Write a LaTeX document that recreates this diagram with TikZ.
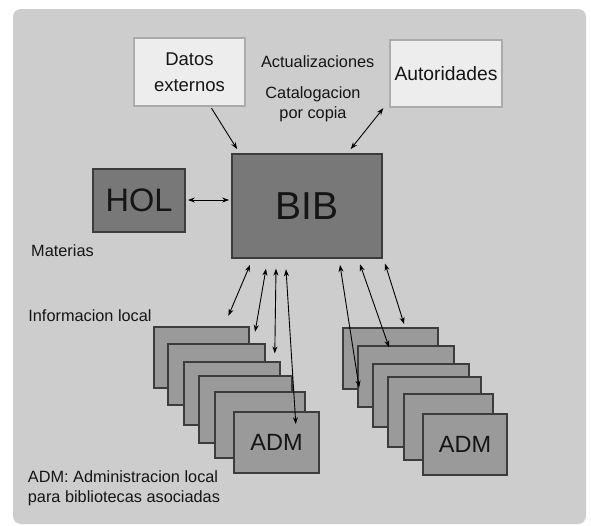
\documentclass[tikz,border=0pt]{standalone}
\usepackage{fontspec}
\setmainfont{Liberation Sans}
\usetikzlibrary{arrows.meta,calc}
\definecolor{bgcol}{HTML}{CDCDCD}
\definecolor{lightbox}{HTML}{EDEDED}
\definecolor{lightedge}{HTML}{ABABAB}
\definecolor{darkbox}{HTML}{787878}
\definecolor{stackbox}{HTML}{9A9A9A}
\definecolor{edgecol}{HTML}{3C3C3C}
\definecolor{txtcol}{HTML}{151515}
\tikzset{
  lightnode/.style={draw=lightedge, line width=1.4pt, fill=lightbox, rectangle, inner sep=0pt, text=txtcol, align=center},
  darknode/.style={draw=edgecol, line width=1.8pt, fill=darkbox, rectangle, inner sep=0pt, text=txtcol},
  stacknode/.style={draw=edgecol, line width=1.8pt, fill=stackbox, rectangle, inner sep=0pt, text=txtcol},
  label16/.style={text=txtcol, inner sep=0pt, font=\fontsize{16.3}{20}\selectfont},
  conn/.style={line width=0.9pt, black, -{Stealth[length=7pt,width=5pt]}},
  conn2/.style={line width=0.9pt, black, {Stealth[length=7pt,width=5pt]}-{Stealth[length=7pt,width=5pt]}}
}
\begin{document}
\begin{tikzpicture}[x=1pt,y=-1pt]
\useasboundingbox (0,0) rectangle (591,525);
\fill[white] (0,0) rectangle (591,525);
\fill[bgcol, rounded corners=8pt] (13,9) rectangle (586,524);

% top boxes
\node[lightnode, minimum width=111pt, minimum height=68pt, font=\fontsize{18.5}{26}\selectfont] (datos) at (189.5,72) {Datos\\externos};
\node[lightnode, minimum width=112pt, minimum height=67pt, font=\fontsize{19.3}{23}\selectfont] (autor) at (446,73.5) {Autoridades};
\node[label16] (actual) at (317.7,61.7) {Actualizaciones};
\node[label16, align=center] (catal) at (313,104) {Catalogacion\\por copia};

% central
\node[darknode, minimum width=150pt, minimum height=104pt, font=\fontsize{39}{44}\selectfont] (BIB) at (307,206) {BIB};
\node[darknode, minimum width=92pt, minimum height=63pt, font=\fontsize{32.5}{36}\selectfont] (HOL) at (139,200.5) {HOL};
\node[label16] (materias) at (62.5,250.7) {Materias};
\node[label16] (info) at (90,316) {Informacion local};
\node[label16, anchor=west, align=left] (note) at (27.7,488.3) {ADM: Administracion local\\para bibliotecas asociadas};

% left stack
\node[stacknode, minimum width=95pt, minimum height=61pt] (L1) at (201.5,357.5) {};
\node[stacknode, minimum width=97pt, minimum height=61pt] (L2) at (216.5,374.5) {};
\node[stacknode, minimum width=96pt, minimum height=63pt] (L3) at (232,393.5) {};
\node[stacknode, minimum width=93pt, minimum height=67pt] (L4) at (245.5,409.5) {};
\node[stacknode, minimum width=90pt, minimum height=66pt] (L5) at (260,425) {};
\node[stacknode, minimum width=85pt, minimum height=61pt, font=\fontsize{23.5}{28}\selectfont] (LADM) at (276.5,442.5) {ADM};

% right stack
\node[stacknode, minimum width=95pt, minimum height=61pt] (R1) at (390.5,358.5) {};
\node[stacknode, minimum width=96pt, minimum height=61pt] (R2) at (406,376.5) {};
\node[stacknode, minimum width=96pt, minimum height=63pt] (R3) at (421,395.5) {};
\node[stacknode, minimum width=93pt, minimum height=70pt] (R4) at (434.5,412) {};
\node[stacknode, minimum width=89pt, minimum height=66pt] (R5) at (448.5,427) {};
\node[stacknode, minimum width=84pt, minimum height=61pt, font=\fontsize{23.5}{28}\selectfont] (RADM) at (465,444.5) {ADM};

% connectors
\draw[conn2] ($(HOL.east |- 0,200)+(2,0)$) -- ($(BIB.west |- 0,200)+(-2,0)$);
\draw[conn] ([xshift=22pt,yshift=-1.5pt]datos.south) -- ([xshift=6pt,yshift=4pt]BIB.north west);
\draw[conn2] ([xshift=-62.7pt,yshift=-0.5pt]autor.south) -- ([xshift=43.7pt,yshift=4pt]BIB.north);

\draw[conn2] ([xshift=-57pt,yshift=-6pt]BIB.south) -- ([xshift=75.3pt,yshift=10.3pt]L1.north west);
\draw[conn2] ([xshift=-41pt,yshift=-9.7pt]BIB.south) -- ([xshift=88pt,yshift=11.3pt]L2.north west);
\draw[conn2] ([xshift=-31pt,yshift=-9.7pt]BIB.south) -- ([xshift=91.7pt,yshift=7.7pt]L3.north west);
\draw[conn2] ([xshift=-21pt,yshift=-10.3pt]BIB.south) -- ([xshift=62.7pt,yshift=-13pt]LADM.north west);

\draw[conn2] ([xshift=33pt,yshift=-6pt]BIB.south) -- ([xshift=17pt,yshift=2.3pt]R1.south west);
\draw[conn2] ([xshift=53pt,yshift=-5.3pt]BIB.south) -- ([xshift=32pt,yshift=-2.3pt]R2.north west);
\draw[conn2] ([xshift=78pt,yshift=-4.7pt]BIB.south) -- ([xshift=62pt,yshift=3pt]R1.north west);
\end{tikzpicture}
\end{document}
